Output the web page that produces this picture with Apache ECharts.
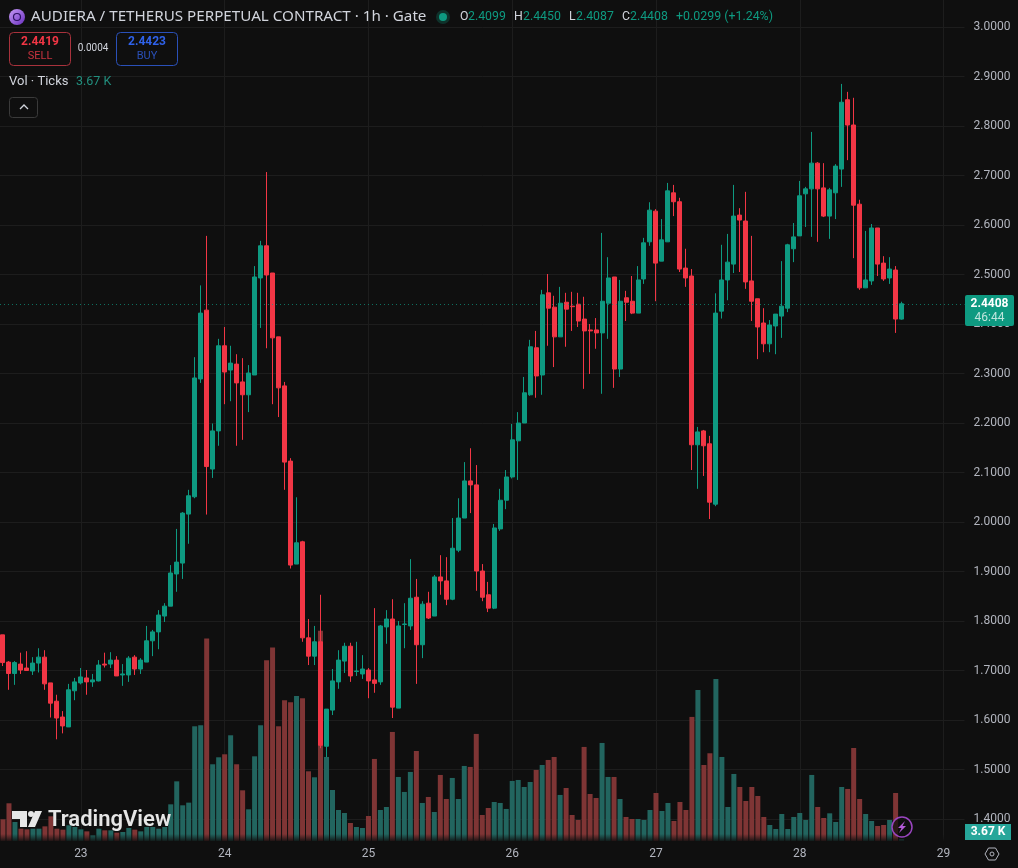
<!DOCTYPE html>
<html>
<head>
<meta charset="utf-8">
<title>AUDIERA / TETHERUS 1h</title>
<style>html,body{margin:0;padding:0;background:#0f0f0f}#chart{width:1018px;height:868px}</style>
<script src="https://cdn.jsdelivr.net/npm/echarts@6/dist/echarts.min.js"></script>
</head>
<body>
<div id="chart"></div>
<script>
// Hourly candles, oldest first
const opens = [
  1.772,1.717,1.694,1.713,1.705,1.699,1.715,1.727,1.675,1.638,
  1.606,1.586,1.659,1.675,1.685,1.677,1.679,1.713,1.713,1.721,
  1.691,1.691,1.727,1.703,1.717,1.760,1.778,1.810,1.830,1.895,
  1.917,2.016,2.051,2.289,2.428,2.107,2.184,2.356,2.307,2.319,
  2.283,2.257,2.297,2.493,2.558,2.503,2.374,2.275,2.123,1.915,
  1.960,1.766,1.729,1.758,1.547,1.620,1.677,1.719,1.749,1.698,
  1.693,1.701,1.681,1.677,1.788,1.804,1.624,1.793,1.790,1.848,
  1.752,1.836,1.810,1.889,1.881,1.844,1.943,2.008,2.083,2.075,
  1.901,1.853,1.826,1.986,2.044,2.091,2.164,2.200,2.257,2.352,
  2.297,2.463,2.434,2.374,2.444,2.436,2.440,2.410,2.388,2.388,
  2.382,2.442,2.495,2.309,2.453,2.446,2.422,2.491,2.566,2.628,
  2.527,2.566,2.665,2.647,2.513,2.497,2.156,2.184,2.158,2.036,
  2.426,2.489,2.521,2.620,2.608,2.487,2.451,2.402,2.360,2.396,
  2.416,2.432,2.552,2.578,2.663,2.673,2.725,2.675,2.618,2.665,
  2.713,2.853,2.802,2.642,2.473,2.487,2.594,2.523,2.493,2.509,
  2.4099
];
const closes = [
  1.716,1.694,1.716,1.701,1.700,1.715,1.727,1.673,1.634,1.604,
  1.588,1.661,1.677,1.687,1.677,1.681,1.711,1.711,1.721,1.689,
  1.693,1.725,1.703,1.721,1.760,1.778,1.812,1.830,1.897,1.919,
  2.018,2.053,2.291,2.422,2.112,2.184,2.356,2.303,2.321,2.281,
  2.257,2.301,2.495,2.558,2.499,2.372,2.271,2.121,1.913,1.958,
  1.766,1.729,1.758,1.549,1.622,1.679,1.721,1.749,1.689,1.699,
  1.703,1.679,1.674,1.790,1.804,1.626,1.790,1.794,1.846,1.752,
  1.834,1.806,1.889,1.881,1.844,1.947,2.008,2.083,2.075,1.901,
  1.848,1.826,1.988,2.044,2.091,2.166,2.200,2.261,2.354,2.295,
  2.459,2.432,2.374,2.442,2.430,2.435,2.406,2.386,2.386,2.382,
  2.446,2.493,2.309,2.446,2.444,2.422,2.489,2.564,2.630,2.523,
  2.570,2.669,2.647,2.511,2.493,2.156,2.182,2.154,2.040,2.422,
  2.489,2.525,2.618,2.610,2.485,2.446,2.394,2.360,2.398,2.420,
  2.436,2.560,2.576,2.659,2.673,2.725,2.673,2.618,2.671,2.719,
  2.848,2.802,2.640,2.473,2.489,2.594,2.521,2.491,2.511,2.410,
  2.4408
];
const highs = [
  1.772,1.719,1.719,1.736,1.739,1.727,1.745,1.741,1.675,1.651,
  1.618,1.673,1.685,1.705,1.701,1.693,1.721,1.736,1.737,1.729,
  1.713,1.729,1.731,1.725,1.790,1.782,1.822,1.836,1.913,1.986,
  2.020,2.065,2.333,2.478,2.578,2.199,2.370,2.394,2.356,2.339,
  2.331,2.317,2.517,2.568,2.707,2.503,2.374,2.283,2.129,2.050,
  1.962,1.804,1.790,1.853,1.622,1.703,1.741,1.756,1.756,1.758,
  1.731,1.705,1.826,1.792,1.822,1.844,1.800,1.836,1.925,1.885,
  1.840,1.859,1.893,1.933,1.929,2.008,2.048,2.121,2.149,2.115,
  1.915,1.879,1.996,2.067,2.105,2.198,2.222,2.293,2.368,2.386,
  2.469,2.501,2.457,2.475,2.463,2.465,2.463,2.455,2.400,2.412,
  2.584,2.535,2.495,2.489,2.467,2.497,2.517,2.574,2.646,2.632,
  2.612,2.685,2.681,2.655,2.552,2.511,2.192,2.186,2.174,2.462,
  2.560,2.582,2.681,2.634,2.667,2.578,2.451,2.432,2.408,2.420,
  2.527,2.562,2.604,2.689,2.677,2.788,2.727,2.725,2.675,2.723,
  2.885,2.869,2.857,2.651,2.588,2.602,2.594,2.537,2.535,2.517,
  2.4450
];
const lows = [
  1.709,1.661,1.671,1.693,1.700,1.691,1.696,1.661,1.605,1.561,
  1.573,1.586,1.640,1.672,1.651,1.667,1.678,1.706,1.705,1.689,
  1.669,1.677,1.691,1.693,1.717,1.729,1.743,1.798,1.830,1.859,
  1.885,1.956,2.048,2.281,2.015,2.089,2.154,2.238,2.244,2.154,
  2.166,2.222,2.297,2.392,2.351,2.238,2.212,2.065,1.906,1.915,
  1.758,1.711,1.711,1.543,1.525,1.610,1.663,1.695,1.677,1.689,
  1.683,1.644,1.655,1.671,1.754,1.604,1.624,1.745,1.782,1.673,
  1.725,1.804,1.810,1.853,1.832,1.842,1.939,2.008,2.018,1.861,
  1.840,1.818,1.824,1.982,2.026,2.088,2.085,2.200,2.255,2.251,
  2.257,2.356,2.313,2.374,2.354,2.386,2.394,2.269,2.299,2.350,
  2.259,2.370,2.271,2.293,2.406,2.420,2.422,2.481,2.558,2.446,
  2.527,2.566,2.618,2.505,2.475,2.105,2.067,2.093,2.006,2.032,
  2.411,2.448,2.503,2.505,2.471,2.406,2.329,2.343,2.343,2.339,
  2.372,2.424,2.525,2.578,2.596,2.576,2.566,2.616,2.572,2.612,
  2.677,2.731,2.533,2.469,2.473,2.479,2.497,2.487,2.481,2.382,
  2.4087
];
// Tick volume per candle, in thousands
const volumes = [
  39.8,69.2,34.9,22.6,21.4,22.6,22.6,26.9,45.3,22.6,
  20.8,28.8,25.7,21.4,17.7,10.4,22.6,19.6,19.6,15.3,
  16.5,23.9,20.8,17.7,25.7,25.7,22.6,25.7,67.3,109.5,
  65.5,70.4,210.5,212.4,371.5,140.8,153.6,159.1,194,140.8,
  93,58.1,155.4,212.4,331.7,355,210.5,258.3,254.6,266.2,
  261.9,127.9,116.9,385.6,154.2,93.6,56.9,51.4,33,25.7,
  23.9,45.9,150.6,56.9,62.4,200.1,117.5,90,126.7,165.2,
  69.8,80.8,53.2,121.2,77.1,115.7,77.1,137.7,135.9,196.5,
  47.7,60.6,71.6,69.8,58.8,110.2,112,99.1,108.3,130.4,
  139.5,148.7,154.2,84.5,97.3,47.7,38.6,172.6,86.3,78.9,
  179.9,117.5,117.5,77.1,44.1,40.4,40.4,38.6,56.9,88.1,
  55.1,69.8,36.7,71.6,56.9,227.7,277.2,139.5,161,297.4,
  154.2,62.4,123,99.1,73.4,99.1,82.6,44.1,29.4,22,
  49.6,22,44.1,51.4,38.6,121.2,62.4,42.2,50.8,34.9,
  99.1,95.5,170.7,77.1,49.6,36.7,27.5,29.4,38.6,88.1,
  3.67
];
// Day labels on the time axis, each at the midnight candle
const dayTickIndex = [13, 37, 61, 85, 109, 133, 157];
const dayTickLabels = ['23', '24', '25', '26', '27', '28', '29'];
const slotCount = 161; // candles plus the empty hours on the right

const lastPrice = 2.4408;
const BG = '#0f0f0f', UP = '#0e9a81', DOWN = '#f23645';
const UP_VOL = '#22655f', DOWN_VOL = '#7f3535';
const TEXT = '#d1d4dc', AXIS_TEXT = '#b2b5be', GRID = '#1d1d1d';
const FONT = 'Roboto, "Noto Sans", sans-serif';
const TITLE_FONT = '"Noto Sans", Roboto, sans-serif';

const categories = Array.from({length: slotCount}, (_, i) => {
  const d = dayTickIndex.indexOf(i);
  return d >= 0 ? dayTickLabels[d] : String(i);
});
const isDayTick = i => dayTickIndex.includes(i);

const candleData = opens.map((o, i) => [o, closes[i], lows[i], highs[i]]);
const volumeData = volumes.map((v, i) => ({
  value: v,
  itemStyle: {color: closes[i] >= opens[i] ? UP_VOL : DOWN_VOL}
}));

function label(x, y, text, fill, size, extra) {
  return {type: 'text', x, y, z: 20, silent: true,
    style: Object.assign({text, fill, font: `${size}px ${FONT}`, textVerticalAlign: 'middle'}, extra || {})};
}

// Legend strip: symbol, OHLC readout, sell/buy boxes, volume readout
const ohlcParts = [
  ['O', TEXT], ['2.4099', UP], ['H', TEXT], ['2.4450', UP], ['L', TEXT], ['2.4087', UP],
  ['C', TEXT], ['2.4408', UP]
];
const ohlcX = [460, 468, 514, 523, 569, 576, 622, 630];
const overlay = [
  // Fade at the foot of the volume pane
  {type: 'rect', shape: {x: 0, y: 834, width: 964, height: 7}, z: 2, silent: true,
   style: {fill: {type: 'linear', x: 0, y: 0, x2: 0, y2: 1,
     colorStops: [{offset: 0, color: 'rgba(15,15,15,0)'}, {offset: 1, color: 'rgba(15,15,15,0.85)'}]}}},

  {type: 'circle', shape: {cx: 17, cy: 17, r: 8}, z: 20, silent: true,
   style: {fill: {type: 'linear', x: 0, y: 0, x2: 1, y2: 1,
     colorStops: [{offset: 0, color: '#c69bf5'}, {offset: 1, color: '#6a2fc0'}]}}},
  {type: 'circle', shape: {cx: 17, cy: 17, r: 3.5}, z: 21, silent: true,
   style: {fill: 'none', stroke: '#2b1060', lineWidth: 1.2}},
  label(31, 17, 'AUDIERA / TETHERUS PERPETUAL CONTRACT · 1h · Gate', TEXT, 14, {font: `15.2px ${TITLE_FONT}`}),
  {type: 'circle', shape: {cx: 443, cy: 17, r: 7}, z: 20, silent: true, style: {fill: 'rgba(14,154,129,0.25)'}},
  {type: 'circle', shape: {cx: 443, cy: 17, r: 4}, z: 21, silent: true, style: {fill: UP}},
  ...ohlcParts.map((p, i) => label(ohlcX[i], 17, p[0], p[1], 12.3)),
  label(676, 17, '+0.0299 (+1.24%)', UP, 12.4),

  {type: 'rect', shape: {x: 9.5, y: 32.5, width: 61, height: 33, r: 4}, z: 20, silent: true,
   style: {fill: 'none', stroke: '#a8323c', lineWidth: 1}},
  label(40, 42, '2.4419', DOWN, 12, {textAlign: 'center', font: `bold 12px ${FONT}`}),
  label(40, 56, 'SELL', '#c9333f', 11, {textAlign: 'center'}),
  label(93, 48, '0.0004', TEXT, 10, {textAlign: 'center'}),
  {type: 'rect', shape: {x: 116.5, y: 32.5, width: 61, height: 33, r: 4}, z: 20, silent: true,
   style: {fill: 'none', stroke: '#2a50b8', lineWidth: 1}},
  label(147, 42, '2.4423', '#2f62ea', 12, {textAlign: 'center', font: `bold 12px ${FONT}`}),
  label(147, 56, 'BUY', '#2a50b8', 11, {textAlign: 'center'}),

  label(9, 82, 'Vol · Ticks', TEXT, 13),
  label(76, 82, '3.67 K', '#22907f', 12.5),
  {type: 'rect', shape: {x: 9.5, y: 97.5, width: 28, height: 20, r: 3}, z: 20, silent: true,
   style: {fill: 'none', stroke: '#3a3a3a', lineWidth: 1}},
  {type: 'polyline', shape: {points: [[20, 109], [24, 105], [28, 109]]}, z: 20, silent: true,
   style: {fill: 'none', stroke: TEXT, lineWidth: 1.3}},

  // Watermark
  {type: 'polygon', shape: {points: [[12, 811], [27, 811], [27, 827], [20, 827], [20, 819], [12, 819]]}, z: 20, silent: true,
   style: {fill: '#e6e6e6'}},
  {type: 'circle', shape: {cx: 31, cy: 814, r: 3}, z: 20, silent: true, style: {fill: '#e6e6e6'}},
  {type: 'polygon', shape: {points: [[35, 811], [42, 811], [35, 827], [28, 827]]}, z: 20, silent: true,
   style: {fill: '#e6e6e6'}},
  label(48, 820, 'TradingView', '#e6e6e6', 22, {font: `600 22px ${FONT}`}),

  // Last-price and volume tags on the price scale
  {type: 'rect', shape: {x: 965, y: 295, width: 49, height: 31, r: 2}, z: 20, silent: true, style: {fill: '#0e9a81'}},
  label(989.5, 304, '2.4408', '#ffffff', 12, {textAlign: 'center', font: `bold 12px ${FONT}`}),
  label(989.5, 318, '46:44', '#bfe5dd', 12, {textAlign: 'center'}),
  {type: 'rect', shape: {x: 965, y: 824, width: 46, height: 16}, z: 20, silent: true, style: {fill: '#26a69a'}},
  label(988, 832, '3.67 K', '#ffffff', 12, {textAlign: 'center', font: `bold 12px ${FONT}`}),

  // Alert badge over the latest bars
  {type: 'circle', shape: {cx: 902, cy: 827, r: 10}, z: 20, silent: true,
   style: {fill: 'rgba(15,15,15,0.75)', stroke: '#9a45c0', lineWidth: 1.5}},
  {type: 'polygon', shape: {points: [[905, 821], [898, 828], [901.5, 828], [899, 833], [906, 826], [902.5, 826]]}, z: 21, silent: true,
   style: {fill: '#b45ad8'}},

  // Scale settings icon
  {type: 'polygon', shape: {points: [[985, 854], [988.5, 848], [995.5, 848], [999, 854], [995.5, 860], [988.5, 860]]}, z: 20, silent: true,
   style: {fill: 'none', stroke: AXIS_TEXT, lineWidth: 1}},
  {type: 'circle', shape: {cx: 992, cy: 854, r: 2}, z: 20, silent: true,
   style: {fill: 'none', stroke: AXIS_TEXT, lineWidth: 1}}
];

const chart = echarts.init(document.getElementById('chart'), null, {renderer: 'canvas'});
chart.setOption({
  animation: false,
  backgroundColor: BG,
  textStyle: {fontFamily: FONT},
  // Half-pixel left offset keeps bars crisp on the 6px hour slots
  grid: [
    {left: -1.5, width: 966, top: 27, height: 792},   // price
    {left: -1.5, width: 966, top: 0, height: 841}     // volume, and the full-height day lines
  ],
  xAxis: [
    {type: 'category', gridIndex: 0, data: categories, show: false},
    {type: 'category', gridIndex: 1, data: categories,
     axisLine: {show: false}, axisTick: {show: false},
     axisLabel: {color: AXIS_TEXT, fontSize: 12, margin: 7, interval: i => isDayTick(i)},
     splitLine: {show: true, alignWithLabel: true, interval: i => isDayTick(i),
       lineStyle: {color: GRID, width: 1}}}
  ],
  yAxis: [
    {type: 'value', gridIndex: 0, position: 'right', min: 1.4, max: 3.0, interval: 0.1,
     axisLine: {show: false}, axisTick: {show: false},
     axisLabel: {color: AXIS_TEXT, fontSize: 12, margin: 9, padding: [2, 0, 0, 0], formatter: v => v.toFixed(4)},
     splitLine: {lineStyle: {color: GRID, width: 1}}},
    {type: 'value', gridIndex: 1, min: 0, max: 1543.2, show: false, splitLine: {show: false}}
  ],
  series: [
    {type: 'bar', name: 'Vol', xAxisIndex: 1, yAxisIndex: 1, data: volumeData, barWidth: 5, z: 1},
    {type: 'candlestick', name: 'AUDIERA', xAxisIndex: 0, yAxisIndex: 0, data: candleData, barWidth: 4.5, z: 3,
     clip: false,
     itemStyle: {color: UP, color0: DOWN, borderColor: UP, borderColor0: DOWN, borderWidth: 1},
     markLine: {silent: true, symbol: 'none', label: {show: false},
       lineStyle: {color: UP, type: [1, 3], width: 1, opacity: 0.7},
       data: [{yAxis: lastPrice}]}}
  ],
  graphic: overlay
});
</script>
</body>
</html>
